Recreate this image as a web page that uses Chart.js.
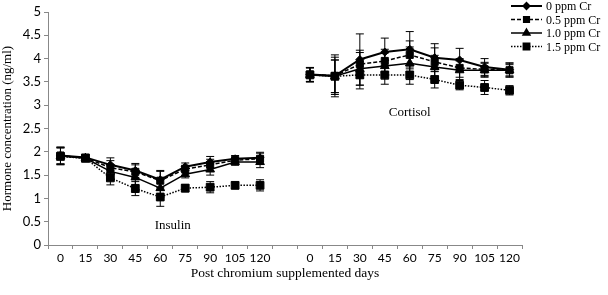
<!DOCTYPE html>
<html>
<head>
<meta charset="utf-8">
<script src="https://cdn.jsdelivr.net/npm/chart.js@4"></script>
<style>
  html, body { margin: 0; padding: 0; background: #fff; }
  #wrap { width: 608px; height: 295px; }
</style>
</head>
<body>
<div id="wrap"><canvas id="chart" width="608" height="295"></canvas></div>
<script>
// categories: insulin days, a blank spacer, cortisol days
const days = ['0', '15', '30', '45', '60', '75', '90', '105', '120'];
const labels = [...days, '', ...days];

// hormone values (ng/ml), insulin then cortisol
const insulin0  = [1.92, 1.88, 1.72, 1.60, 1.40, 1.68, 1.78, 1.85, 1.87];
const insulin05 = [1.92, 1.87, 1.66, 1.57, 1.38, 1.63, 1.72, 1.82, 1.85];
const insulin10 = [1.91, 1.86, 1.58, 1.45, 1.22, 1.52, 1.62, 1.78, 1.78];
const insulin15 = [1.90, 1.86, 1.44, 1.21, 1.03, 1.22, 1.24, 1.28, 1.28];

const cortisol0  = [3.66, 3.63, 3.98, 4.14, 4.20, 4.02, 3.97, 3.82, 3.76];
const cortisol05 = [3.66, 3.63, 3.88, 3.95, 4.08, 3.93, 3.80, 3.77, 3.75];
const cortisol10 = [3.65, 3.62, 3.78, 3.84, 3.90, 3.82, 3.75, 3.75, 3.75];
const cortisol15 = [3.65, 3.62, 3.65, 3.65, 3.65, 3.55, 3.43, 3.38, 3.32];

// standard errors
const errInsulin  = [0.18, 0.07, 0.15, 0.15, 0.20, 0.08, 0.12, 0.07, 0.12];
const errCortisol0  = [0.15, 0.45, 0.55, 0.30, 0.38, 0.30, 0.25, 0.18, 0.15];
const errCortisol05 = [0.15, 0.40, 0.30, 0.25, 0.30, 0.30, 0.20, 0.15, 0.15];
const errCortisol10 = [0.15, 0.35, 0.35, 0.28, 0.35, 0.25, 0.20, 0.15, 0.12];
const errCortisol15 = [0.15, 0.35, 0.30, 0.20, 0.20, 0.18, 0.10, 0.15, 0.10];

const seriesNames = ['0 ppm Cr', '0.5 ppm Cr', '1.0 ppm Cr', '1.5 ppm Cr'];

function join(a, b) { return [...a, null, ...b]; }

const serif = '"Liberation Serif", serif';
const sans = 'Lato, sans-serif';

const styles = [
  { pointStyle: 'rectRot', radius: 4, dash: [], width: 2 },
  { pointStyle: 'rect', radius: 5, dash: [4, 2], width: 1.5 },
  { pointStyle: 'triangle', radius: 5, dash: [], width: 1.5 },
  { pointStyle: 'rect', radius: 5.5, dash: [1.5, 1.5], width: 1.5 }
];

const values = [
  join(insulin0, cortisol0),
  join(insulin05, cortisol05),
  join(insulin10, cortisol10),
  join(insulin15, cortisol15)
];
const errors = [
  join(errInsulin, errCortisol0),
  join(errInsulin, errCortisol05),
  join(errInsulin, errCortisol10),
  join(errInsulin, errCortisol15)
];

const datasets = values.map((v, i) => ({
  label: seriesNames[i],
  data: v,
  errors: errors[i],
  borderColor: '#000',
  backgroundColor: '#000',
  borderWidth: styles[i].width,
  borderDash: styles[i].dash,
  pointStyle: styles[i].pointStyle,
  pointRadius: styles[i].radius,
  pointBorderWidth: 1,
  spanGaps: false,
  tension: 0
}));

const errorBars = {
  id: 'errorBars',
  afterDatasetsDraw(chart) {
    const ctx = chart.ctx;
    const y = chart.scales.y;
    ctx.save();
    ctx.strokeStyle = '#000';
    ctx.lineWidth = 1;
    chart.data.datasets.forEach((ds, di) => {
      const meta = chart.getDatasetMeta(di);
      meta.data.forEach((pt, i) => {
        const v = ds.data[i];
        if (v == null) return;
        const e = ds.errors[i];
        const top = y.getPixelForValue(v + e);
        const bot = y.getPixelForValue(v - e);
        ctx.beginPath();
        ctx.moveTo(pt.x, top); ctx.lineTo(pt.x, bot);
        ctx.moveTo(pt.x - 4, top); ctx.lineTo(pt.x + 4, top);
        ctx.moveTo(pt.x - 4, bot); ctx.lineTo(pt.x + 4, bot);
        ctx.stroke();
      });
    });
    ctx.restore();
  }
};

const annotations = {
  id: 'annotations',
  afterDraw(chart) {
    const ctx = chart.ctx;
    const x = chart.scales.x, y = chart.scales.y;
    ctx.save();
    ctx.fillStyle = '#000';
    ctx.font = '13px ' + serif;
    ctx.textAlign = 'center';
    ctx.textBaseline = 'middle';
    ctx.fillText('Insulin', (x.getPixelForValue(4) + x.getPixelForValue(5)) / 2, y.getPixelForValue(0.42));
    ctx.fillText('Cortisol', x.getPixelForValue(14), y.getPixelForValue(2.84));

    // legend
    ctx.font = '12px ' + serif;
    ctx.textAlign = 'left';
    chart.data.datasets.forEach((ds, i) => {
      const ly = 6 + i * 13.5;
      ctx.beginPath();
      ctx.setLineDash(styles[i].dash);
      ctx.lineWidth = styles[i].width;
      ctx.strokeStyle = '#000';
      ctx.moveTo(511, ly); ctx.lineTo(542, ly);
      ctx.stroke();
      ctx.setLineDash([]);
      Chart.helpers.drawPoint(ctx, { pointStyle: styles[i].pointStyle, radius: styles[i].radius - 1, borderWidth: 1 }, 526.5, ly);
      ctx.fill();
      ctx.fillText(ds.label, 546, ly + 1);
    });
    ctx.restore();
  }
};

new Chart(document.getElementById('chart'), {
  type: 'line',
  data: { labels: labels, datasets: datasets },
  plugins: [errorBars, annotations],
  options: {
    responsive: false,
    animation: false,
    layout: { padding: { top: 12, right: 86, left: 0, bottom: 0 } },
    plugins: { legend: { display: false }, tooltip: { enabled: false } },
    scales: {
      x: {
        offset: true,
        grid: { offset: true, drawOnChartArea: false, tickLength: 4, color: '#888' },
        border: { color: '#888' },
        ticks: { color: '#000', font: { family: sans, size: 12 }, maxRotation: 0, autoSkip: false, padding: 2 },
        title: { display: true, text: 'Post chromium supplemented days', color: '#000', font: { family: serif, size: 13.5 }, padding: { top: 4, bottom: 13 } },
        afterFit(scale) { scale.height = 50; }
      },
      y: {
        min: 0, max: 5,
        grid: { drawOnChartArea: false, tickLength: 4, color: '#888' },
        border: { color: '#888' },
        ticks: { stepSize: 0.5, color: '#000', font: { family: sans, size: 13 }, padding: 3,
                 callback: v => String(Math.round(v * 10) / 10) },
        title: { display: true, text: 'Hormone concentration (ng/ml)', color: '#000', font: { family: serif, size: 13 }, padding: 0 },
        afterFit(scale) { scale.width = 48; }
      }
    }
  }
});
</script>
</body>
</html>
